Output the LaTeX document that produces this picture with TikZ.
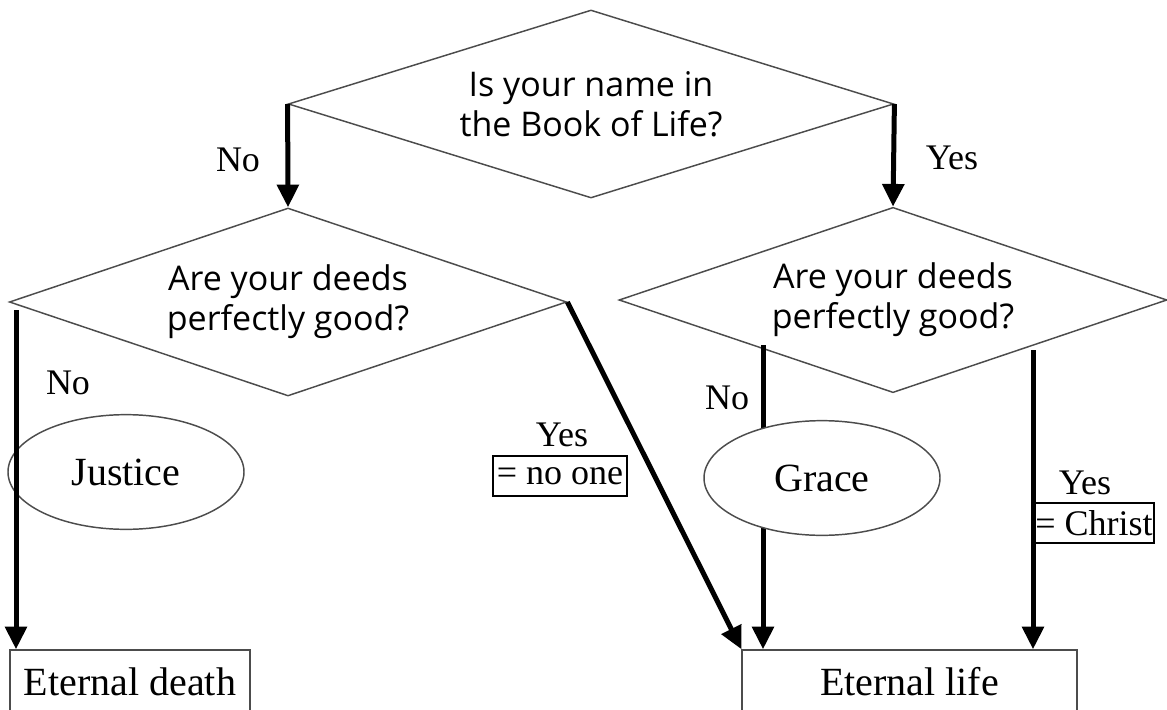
\documentclass[tikz,border=0pt]{standalone}
\usepackage{fontspec}
\setmainfont{Liberation Serif}
\newfontfamily\comicfont{Open Sans}
\usetikzlibrary{arrows.meta, shapes.geometric}

\begin{document}
\begin{tikzpicture}[
	x=0.75pt, y=-0.75pt,
	> = {Triangle[length=17pt, width=16pt]},
	flow/.style = {->, line width=3.75pt},
	question/.style = {diamond, draw=black!70, line width=1.1pt,
		aspect=3.2, inner sep=0pt, align=center,
		font=\comicfont\fontsize{25.5}{30}\selectfont},
	outcome/.style = {ellipse, draw=black!70, line width=1.1pt,
		minimum width=177pt, minimum height=86pt, inner sep=0pt,
		font=\fontsize{30}{36}\selectfont},
	fate/.style = {rectangle, draw=black!70, line width=1.1pt,
		minimum height=48pt, inner sep=0pt,
		font=\fontsize{30}{36}\selectfont},
	lbl/.style = {inner sep=0pt, font=\fontsize{27}{32}\selectfont},
	who/.style = {lbl, draw, line width=1.4pt, inner xsep=1pt,
		minimum height=30pt},
	]
	\useasboundingbox (0,0) rectangle (1167,710);
	\node[question, minimum width=454pt, minimum height=141pt] (qTop) at (591,104)
		{Is your name in\\the Book of Life?};
	\node[question, minimum width=418pt, minimum height=141pt] (qL) at (288,302)
		{Are your deeds\\perfectly good?};
	\node[question, minimum width=411pt, minimum height=139pt] (qR) at (893,300)
		{Are your deeds\\perfectly good?};
	\node[fate, minimum width=180pt] (death) at (130,682) {Eternal death};
	\node[fate, minimum width=251pt] (life) at (909.5,682) {Eternal life};
	\node[outcome] (justice) at (126,472) {Justice};
	% book of life
	\foreach \s/\t in {west/qL, east/qR}
		\draw[flow] (qTop.\s) -- (\t.north);
	\node[lbl] (noTop) at (238,160) {No};
	\node[lbl] (yesTop) at (952,158) {Yes};
	% deeds, left
	\coordinate (dNo) at (16,310);
	\draw[flow] (dNo) -- (dNo |- death.north);
	\node[lbl] (noL) at (68,383) {No};
	\draw[flow] (qL.east) -- (life.north west);
	\node[lbl] (yesL) at (562,435) {Yes};
	\node[who, minimum width=100pt] (noone) at (560,476) {= no one};
	% deeds, right
	\coordinate (gNo) at (763,345);
	\coordinate (gYes) at (1033,350);
	\draw[flow] (gNo) -- (gNo |- life.north);
	\node[outcome, fill=white] (grace) at (822,478) {Grace};
	\node[lbl] (noR) at (727,398) {No};
	\draw[flow] (gYes) -- (gYes |- life.north);
	\node[lbl] (yesR) at (1085,483) {Yes};
	\node[who, anchor=west, minimum width=89pt] (christ) at (1033,523) {= Christ};
\end{tikzpicture}
\end{document}
